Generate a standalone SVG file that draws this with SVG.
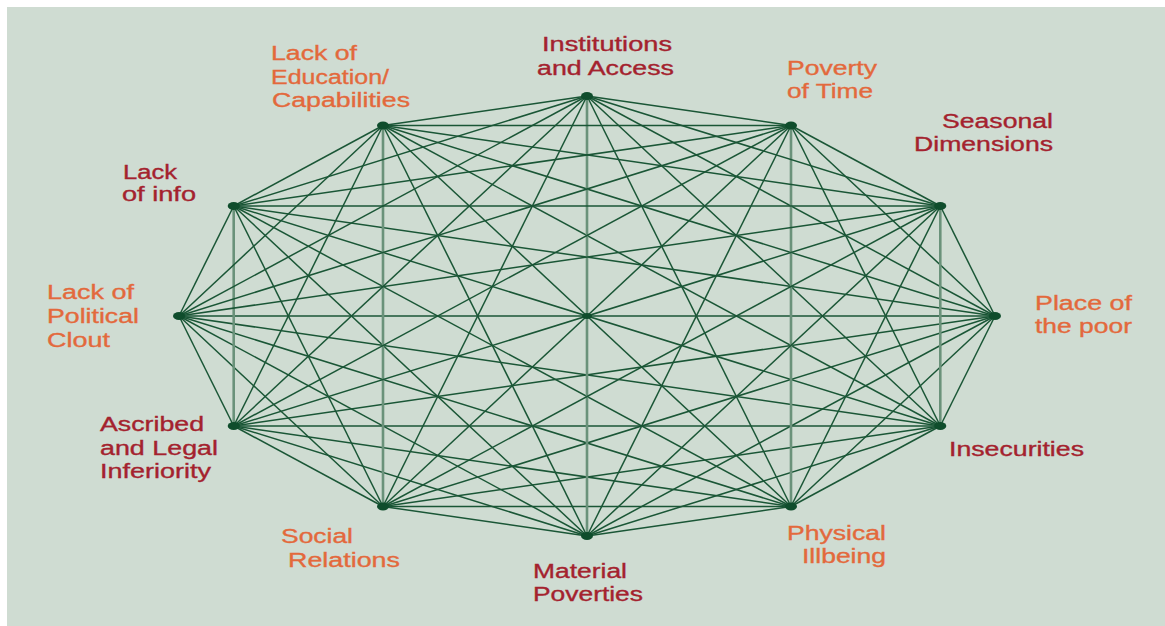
<svg xmlns="http://www.w3.org/2000/svg" width="1165" height="626" viewBox="0 0 1165 626">
<style>
.bg{fill:#cfdcd2}
.e{stroke:#1a5636;stroke-width:1.5;fill:none}
.v{stroke:#6a927a;stroke-width:2.6;fill:none}
.dot{fill:#0f4d2c}
text{font-family:"Liberation Sans",Arial,sans-serif;font-size:20px;stroke-width:0.35}
.o{fill:#e3693c;stroke:#e3693c}
.r{fill:#a4222e;stroke:#a4222e}
</style>
<rect width="1165" height="626" fill="#ffffff"/>
<rect class="bg" x="7" y="7" width="1158" height="619"/>
<g id="connectors">
<line class="e" x1="995" y1="316" x2="940.3" y2="426"/>
<line class="e" x1="995" y1="316" x2="791" y2="506.5"/>
<line class="e" x1="995" y1="316" x2="587" y2="536"/>
<line class="e" x1="995" y1="316" x2="383" y2="506.5"/>
<line class="e" x1="995" y1="316" x2="233.7" y2="426"/>
<line class="e" x1="995" y1="316" x2="179" y2="316"/>
<line class="e" x1="995" y1="316" x2="233.7" y2="206"/>
<line class="e" x1="995" y1="316" x2="383" y2="125.5"/>
<line class="e" x1="995" y1="316" x2="587" y2="96"/>
<line class="e" x1="995" y1="316" x2="791" y2="125.5"/>
<line class="e" x1="995" y1="316" x2="940.3" y2="206"/>
<line class="e" x1="940.3" y1="426" x2="791" y2="506.5"/>
<line class="e" x1="940.3" y1="426" x2="587" y2="536"/>
<line class="e" x1="940.3" y1="426" x2="383" y2="506.5"/>
<line class="e" x1="940.3" y1="426" x2="233.7" y2="426"/>
<line class="e" x1="940.3" y1="426" x2="179" y2="316"/>
<line class="e" x1="940.3" y1="426" x2="233.7" y2="206"/>
<line class="e" x1="940.3" y1="426" x2="383" y2="125.5"/>
<line class="e" x1="940.3" y1="426" x2="587" y2="96"/>
<line class="e" x1="940.3" y1="426" x2="791" y2="125.5"/>
<line class="v" x1="940.3" y1="426" x2="940.3" y2="206"/>
<line class="e" x1="791" y1="506.5" x2="587" y2="536"/>
<line class="e" x1="791" y1="506.5" x2="383" y2="506.5"/>
<line class="e" x1="791" y1="506.5" x2="233.7" y2="426"/>
<line class="e" x1="791" y1="506.5" x2="179" y2="316"/>
<line class="e" x1="791" y1="506.5" x2="233.7" y2="206"/>
<line class="e" x1="791" y1="506.5" x2="383" y2="125.5"/>
<line class="e" x1="791" y1="506.5" x2="587" y2="96"/>
<line class="v" x1="791" y1="506.5" x2="791" y2="125.5"/>
<line class="e" x1="791" y1="506.5" x2="940.3" y2="206"/>
<line class="e" x1="587" y1="536" x2="383" y2="506.5"/>
<line class="e" x1="587" y1="536" x2="233.7" y2="426"/>
<line class="e" x1="587" y1="536" x2="179" y2="316"/>
<line class="e" x1="587" y1="536" x2="233.7" y2="206"/>
<line class="e" x1="587" y1="536" x2="383" y2="125.5"/>
<line class="v" x1="587" y1="536" x2="587" y2="96"/>
<line class="e" x1="587" y1="536" x2="791" y2="125.5"/>
<line class="e" x1="587" y1="536" x2="940.3" y2="206"/>
<line class="e" x1="383" y1="506.5" x2="233.7" y2="426"/>
<line class="e" x1="383" y1="506.5" x2="179" y2="316"/>
<line class="e" x1="383" y1="506.5" x2="233.7" y2="206"/>
<line class="v" x1="383" y1="506.5" x2="383" y2="125.5"/>
<line class="e" x1="383" y1="506.5" x2="587" y2="96"/>
<line class="e" x1="383" y1="506.5" x2="791" y2="125.5"/>
<line class="e" x1="383" y1="506.5" x2="940.3" y2="206"/>
<line class="e" x1="233.7" y1="426" x2="179" y2="316"/>
<line class="v" x1="233.7" y1="426" x2="233.7" y2="206"/>
<line class="e" x1="233.7" y1="426" x2="383" y2="125.5"/>
<line class="e" x1="233.7" y1="426" x2="587" y2="96"/>
<line class="e" x1="233.7" y1="426" x2="791" y2="125.5"/>
<line class="e" x1="233.7" y1="426" x2="940.3" y2="206"/>
<line class="e" x1="179" y1="316" x2="233.7" y2="206"/>
<line class="e" x1="179" y1="316" x2="383" y2="125.5"/>
<line class="e" x1="179" y1="316" x2="587" y2="96"/>
<line class="e" x1="179" y1="316" x2="791" y2="125.5"/>
<line class="e" x1="179" y1="316" x2="940.3" y2="206"/>
<line class="e" x1="233.7" y1="206" x2="383" y2="125.5"/>
<line class="e" x1="233.7" y1="206" x2="587" y2="96"/>
<line class="e" x1="233.7" y1="206" x2="791" y2="125.5"/>
<line class="e" x1="233.7" y1="206" x2="940.3" y2="206"/>
<line class="e" x1="383" y1="125.5" x2="587" y2="96"/>
<line class="e" x1="383" y1="125.5" x2="791" y2="125.5"/>
<line class="e" x1="383" y1="125.5" x2="940.3" y2="206"/>
<line class="e" x1="587" y1="96" x2="791" y2="125.5"/>
<line class="e" x1="587" y1="96" x2="940.3" y2="206"/>
<line class="e" x1="791" y1="125.5" x2="940.3" y2="206"/>
</g>
<g id="center"><ellipse class="dot" cx="587" cy="316" rx="5" ry="3"/></g>
<g id="node-place-of-the-poor">
<ellipse class="dot" cx="995" cy="316" rx="6" ry="4"/>
<text class="o" x="1035" y="310" textLength="97" lengthAdjust="spacingAndGlyphs">Place of</text>
<text class="o" x="1035" y="333" textLength="97" lengthAdjust="spacingAndGlyphs">the poor</text>
</g>
<g id="node-insecurities">
<ellipse class="dot" cx="940.3" cy="426" rx="6" ry="4"/>
<text class="r" x="949" y="456" textLength="135" lengthAdjust="spacingAndGlyphs">Insecurities</text>
</g>
<g id="node-physical-illbeing">
<ellipse class="dot" cx="791" cy="506.5" rx="6" ry="4"/>
<text class="o" x="787" y="540" textLength="99" lengthAdjust="spacingAndGlyphs">Physical</text>
<text class="o" x="802" y="563" textLength="84" lengthAdjust="spacingAndGlyphs">Illbeing</text>
</g>
<g id="node-material-poverties">
<ellipse class="dot" cx="587" cy="536" rx="6" ry="4"/>
<text class="r" x="533" y="578" textLength="94" lengthAdjust="spacingAndGlyphs">Material</text>
<text class="r" x="533" y="601" textLength="110" lengthAdjust="spacingAndGlyphs">Poverties</text>
</g>
<g id="node-social-relations">
<ellipse class="dot" cx="383" cy="506.5" rx="6" ry="4"/>
<text class="o" x="281" y="543" textLength="72" lengthAdjust="spacingAndGlyphs">Social</text>
<text class="o" x="288" y="567" textLength="112" lengthAdjust="spacingAndGlyphs">Relations</text>
</g>
<g id="node-ascribed-legal-inferiority">
<ellipse class="dot" cx="233.7" cy="426" rx="6" ry="4"/>
<text class="r" x="100" y="431" textLength="104" lengthAdjust="spacingAndGlyphs">Ascribed</text>
<text class="r" x="100" y="455" textLength="118" lengthAdjust="spacingAndGlyphs">and Legal</text>
<text class="r" x="100" y="478" textLength="111" lengthAdjust="spacingAndGlyphs">Inferiority</text>
</g>
<g id="node-lack-political-clout">
<ellipse class="dot" cx="179" cy="316" rx="6" ry="4"/>
<text class="o" x="47" y="299" textLength="87" lengthAdjust="spacingAndGlyphs">Lack of</text>
<text class="o" x="47" y="323" textLength="92" lengthAdjust="spacingAndGlyphs">Political</text>
<text class="o" x="47" y="347" textLength="63" lengthAdjust="spacingAndGlyphs">Clout</text>
</g>
<g id="node-lack-of-info">
<ellipse class="dot" cx="233.7" cy="206" rx="6" ry="4"/>
<text class="r" x="123" y="179" textLength="54" lengthAdjust="spacingAndGlyphs">Lack</text>
<text class="r" x="122" y="201" textLength="74" lengthAdjust="spacingAndGlyphs">of info</text>
</g>
<g id="node-lack-education">
<ellipse class="dot" cx="383" cy="125.5" rx="6" ry="4"/>
<text class="o" x="271" y="60" textLength="86" lengthAdjust="spacingAndGlyphs">Lack of</text>
<text class="o" x="271" y="84" textLength="118" lengthAdjust="spacingAndGlyphs">Education/</text>
<text class="o" x="272" y="107" textLength="138" lengthAdjust="spacingAndGlyphs">Capabilities</text>
</g>
<g id="node-institutions-access">
<ellipse class="dot" cx="587" cy="96" rx="6" ry="4"/>
<text class="r" x="542" y="51" textLength="130" lengthAdjust="spacingAndGlyphs">Institutions</text>
<text class="r" x="537" y="75" textLength="137" lengthAdjust="spacingAndGlyphs">and Access</text>
</g>
<g id="node-poverty-of-time">
<ellipse class="dot" cx="791" cy="125.5" rx="6" ry="4"/>
<text class="o" x="787" y="75" textLength="90" lengthAdjust="spacingAndGlyphs">Poverty</text>
<text class="o" x="787" y="98" textLength="86" lengthAdjust="spacingAndGlyphs">of Time</text>
</g>
<g id="node-seasonal-dimensions">
<ellipse class="dot" cx="940.3" cy="206" rx="6" ry="4"/>
<text class="r" x="942" y="128" textLength="111" lengthAdjust="spacingAndGlyphs">Seasonal</text>
<text class="r" x="914" y="151" textLength="139" lengthAdjust="spacingAndGlyphs">Dimensions</text>
</g>
</svg>
